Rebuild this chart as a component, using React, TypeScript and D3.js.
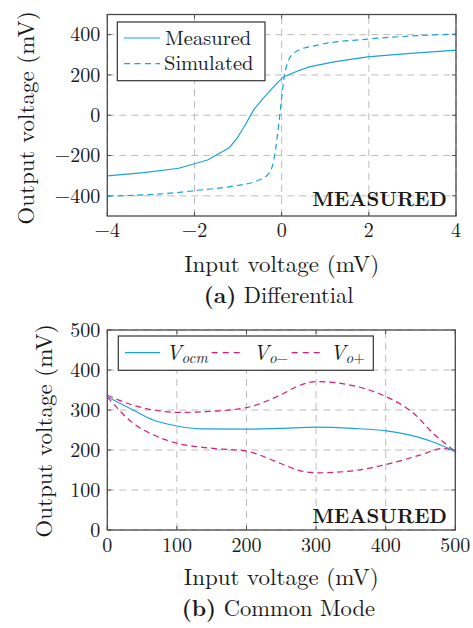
import React from "react";
import * as d3 from "d3";

// ---------- Data (a) Differential ----------
const diffTicksX = [-4, -2, 0, 2, 4];
const diffTicksY = [-400, -200, 0, 200, 400];
const measuredX = [-4, -3.16, -2.36, -1.7, -1.21, -1.02, -0.83, -0.64, -0.41, -0.18, 0.02, 0.28, 0.63, 1.2, 1.97, 2.73, 4];
const measuredY = [-301, -285, -263, -222, -163, -113, -46, 28, 87, 142, 187, 212, 240, 265, 290, 303, 323];
const simulatedX = [-4, -2.62, -1.86, -1.09, -0.56, -0.29, -0.18, -0.1, -0.02, 0.05, 0.17, 0.36, 0.82, 1.97, 3.11, 4];
const simulatedY = [-401, -388, -371, -351, -325, -288, -222, -105, 45, 178, 278, 320, 348, 378, 395, 403];

// ---------- Data (b) Common Mode ----------
const cmTicksX = [0, 100, 200, 300, 400, 500];
const cmTicksY = [0, 100, 200, 300, 400, 500];
const vocmX = [0, 37, 66, 100, 133, 200, 248, 301, 353, 401, 445, 473, 500];
const vocmY = [333, 300, 275, 260, 253, 252, 254, 257, 254, 248, 233, 217, 196];
const voMinusX = [0, 37, 66, 100, 152, 200, 248, 277, 301, 353, 401, 449, 483, 500];
const voMinusY = [333, 267, 238, 217, 204, 197, 167, 148, 143, 148, 164, 187, 204, 196];
const voPlusX = [0, 37, 66, 100, 143, 200, 248, 277, 301, 353, 401, 440, 468, 500];
const voPlusY = [337, 312, 300, 294, 296, 306, 337, 362, 371, 361, 333, 292, 242, 196];

const CYAN = "#1aa3d8";
const MAGENTA = "#d81b7a";
const FONT = "Latin Modern Roman, Liberation Serif, serif";
const GRID = "#bdbdbd";
const FRAME = "#4a4a4a";
const INK = "#1a1a1a";
const TICK_FS = 20;
const LABEL_FS = 23;
const CAPTION_FS = 22.5;
const LEGEND_FS = 20.5;

type Pt = [number, number];
const zip = (xs: number[], ys: number[]): Pt[] => xs.map((x, i) => [x, ys[i]]);

const txt = (size = 20, extra: any = {}) => ({ fontFamily: FONT, fontSize: size, ...extra });

function Frame({ x, y, xt, yt, ylabelX, ylabelY, tickLabelY, fmt }: any) {
  const [x0, x1] = x.range();
  const [y0, y1] = y.range();
  return (
    <g>
      {xt.map((t: number) => (
        <line key={"gx" + t} x1={x(t)} x2={x(t)} y1={y0} y2={y1} stroke={GRID} strokeWidth={1} strokeDasharray="7,5" />
      ))}
      {yt.map((t: number) => (
        <line key={"gy" + t} x1={x0} x2={x1} y1={y(t)} y2={y(t)} stroke={GRID} strokeWidth={1} strokeDasharray="7,5" />
      ))}
      {xt.map((t: number) => (
        <g key={"tx" + t}>
          <line x1={x(t)} x2={x(t)} y1={y0} y2={y0 - 4} stroke={FRAME} strokeWidth={1} />
          <line x1={x(t)} x2={x(t)} y1={y1} y2={y1 + 4} stroke={FRAME} strokeWidth={1} />
          <text x={x(t)} y={tickLabelY} textAnchor="middle" style={txt(TICK_FS)} fill={INK}>
            {fmt(t)}
          </text>
        </g>
      ))}
      {yt.map((t: number) => (
        <g key={"ty" + t}>
          <line x1={x0} x2={x0 + 4} y1={y(t)} y2={y(t)} stroke={FRAME} strokeWidth={1} />
          <line x1={x1} x2={x1 - 4} y1={y(t)} y2={y(t)} stroke={FRAME} strokeWidth={1} />
          <text x={x0 - 7} y={y(t)} dy="0.34em" textAnchor="end" style={txt(TICK_FS)} fill={INK}>
            {fmt(t)}
          </text>
        </g>
      ))}
      <text
        transform={`translate(${ylabelX},${ylabelY}) rotate(-90)`}
        textAnchor="middle"
        style={txt(LABEL_FS)}
        fill={INK}
      >
        Output voltage (mV)
      </text>
    </g>
  );
}

function Border({ x, y }: any) {
  const [x0, x1] = x.range();
  const [y0, y1] = y.range();
  return <rect x={x0} y={y1} width={x1 - x0} height={y0 - y1} fill="none" stroke={FRAME} strokeWidth={1.3} />;
}

export default function App() {
  const fmt = (v: number) => d3.format("d")(v);

  // (a)
  const xa = d3.scaleLinear().domain([-4, 4]).range([107.3, 456]);
  const ya = d3.scaleLinear().domain([-500, 500]).range([216, 14.5]);
  const measPath = d3.line<Pt>().x((d) => xa(d[0])).y((d) => ya(d[1])).curve(d3.curveLinear)(zip(measuredX, measuredY)) || "";
  const simPath = d3.line<Pt>().x((d) => xa(d[0])).y((d) => ya(d[1])).curve(d3.curveMonotoneX)(zip(simulatedX, simulatedY)) || "";

  // (b)
  const xb = d3.scaleLinear().domain([0, 500]).range([107.3, 455.3]);
  const yb = d3.scaleLinear().domain([0, 500]).range([530, 330]);
  const lb = d3.line<Pt>().x((d) => xb(d[0])).y((d) => yb(d[1])).curve(d3.curveMonotoneX);
  const vocmPath = lb(zip(vocmX, vocmY)) || "";
  const voMinusPath = lb(zip(voMinusX, voMinusY)) || "";
  const voPlusPath = lb(zip(voPlusX, voPlusY)) || "";

  const midA = (xa.range()[0] + xa.range()[1]) / 2;
  const midB = (xb.range()[0] + xb.range()[1]) / 2;

  return (
    <svg width={473} height={628} style={{ position: "absolute", left: 0, top: 0, background: "#fff" }}>
      <rect width={473} height={628} fill="#fff" />
      {/* ---------- (a) ---------- */}
      <Frame x={xa} y={ya} xt={diffTicksX} yt={diffTicksY} ylabelX={34} ylabelY={118} tickLabelY={237} fmt={fmt} />
      <path d={measPath} fill="none" stroke={CYAN} strokeWidth={1.2} strokeLinejoin="round" />
      <path d={simPath} fill="none" stroke={CYAN} strokeWidth={1.2} strokeDasharray="6,4" />
      <Border x={xa} y={ya} />
      {/* legend a */}
      <rect x={117.3} y={22} width={147.7} height={58.7} fill="#fff" stroke="#333" strokeWidth={1.2} />
      <line x1={124} x2={160} y1={38} y2={38} stroke={CYAN} strokeWidth={1.2} />
      <line x1={124} x2={160} y1={63.7} y2={63.7} stroke={CYAN} strokeWidth={1.2} strokeDasharray="6,4.5" />
      <text x={165} y={44.7} style={txt(LEGEND_FS)} fill={INK}>Measured</text>
      <text x={164} y={70} style={txt(LEGEND_FS)} fill={INK}>Simulated</text>
      <text x={447} y={206} textAnchor="end" style={txt(20, { fontWeight: "bold" })} fill={INK}>MEASURED</text>
      <text x={midA} y={272} textAnchor="middle" style={txt(LABEL_FS)} fill={INK}>Input voltage (mV)</text>
      <text x={midA - 3} y={303} textAnchor="middle" style={txt(CAPTION_FS)} fill={INK}>
        <tspan style={{ fontWeight: "bold" }}>(a)</tspan>
        <tspan> Differential</tspan>
      </text>

      {/* ---------- (b) ---------- */}
      <Frame x={xb} y={yb} xt={cmTicksX} yt={cmTicksY} ylabelX={52} ylabelY={431} tickLabelY={552} fmt={fmt} />
      <path d={voPlusPath} fill="none" stroke={MAGENTA} strokeWidth={1.2} strokeDasharray="6,4" />
      <path d={voMinusPath} fill="none" stroke={MAGENTA} strokeWidth={1.2} strokeDasharray="6,4" />
      <path d={vocmPath} fill="none" stroke={CYAN} strokeWidth={1.2} />
      <Border x={xb} y={yb} />
      {/* legend b */}
      <rect x={118.3} y={336} width={255} height={34.3} fill="#fff" stroke="#333" strokeWidth={1.2} />
      <line x1={125} x2={160} y1={352.7} y2={352.7} stroke={CYAN} strokeWidth={1.2} />
      <text x={166} y={360} style={txt(21)} fill={INK}>
        <tspan style={{ fontStyle: "italic" }}>V</tspan>
        <tspan style={{ fontStyle: "italic", fontSize: 15 }} dy={3}>ocm</tspan>
      </text>
      <line x1={211.7} x2={243.3} y1={352.7} y2={352.7} stroke={MAGENTA} strokeWidth={1.2} strokeDasharray="6,5" />
      <text x={253.3} y={360} style={txt(21)} fill={INK}>
        <tspan style={{ fontStyle: "italic" }}>V</tspan>
        <tspan style={{ fontStyle: "italic", fontSize: 15 }} dy={3}>o</tspan>
        <tspan style={{ fontSize: 15 }}>−</tspan>
      </text>
      <line x1={291.7} x2={323.3} y1={352.7} y2={352.7} stroke={MAGENTA} strokeWidth={1.2} strokeDasharray="6,5" />
      <text x={330} y={360} style={txt(21)} fill={INK}>
        <tspan style={{ fontStyle: "italic" }}>V</tspan>
        <tspan style={{ fontStyle: "italic", fontSize: 15 }} dy={3}>o</tspan>
        <tspan style={{ fontSize: 15 }}>+</tspan>
      </text>
      <text x={447} y={523} textAnchor="end" style={txt(20, { fontWeight: "bold" })} fill={INK}>MEASURED</text>
      <text x={midB} y={585} textAnchor="middle" style={txt(LABEL_FS)} fill={INK}>Input voltage (mV)</text>
      <text x={midB - 3} y={616} textAnchor="middle" style={txt(CAPTION_FS)} fill={INK}>
        <tspan style={{ fontWeight: "bold" }}>(b)</tspan>
        <tspan> Common Mode</tspan>
      </text>
    </svg>
  );
}
